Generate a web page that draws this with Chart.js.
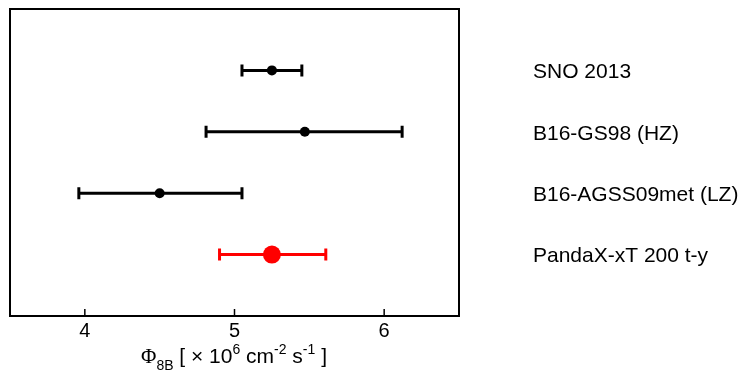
<!DOCTYPE html>
<html>
<head>
<meta charset="utf-8">
<script src="https://cdn.jsdelivr.net/npm/chart.js@4.4.1/dist/chart.umd.min.js"></script>
<style>
  html, body { margin: 0; padding: 0; background: #fff; }
  #wrap { width: 740px; height: 372px; position: relative; }
</style>
</head>
<body>
<div id="wrap"><canvas id="fluxChart"></canvas></div>
<script>
// measurements / predictions, top to bottom
const labels = ["SNO 2013", "B16-GS98 (HZ)", "B16-AGSS09met (LZ)", "PandaX-xT 200 t-y"];
const centers = [5.25, 5.47, 4.50, 5.25];
const lows = [5.05, 4.81, 3.96, 4.90];
const highs = [5.45, 6.12, 5.05, 5.61];
const rows = [4, 3, 2, 1];
const colors = ["#000000", "#000000", "#000000", "#ff0000"];
const radii = [5, 5, 5, 9];
const xTicks = [4, 5, 6];

const FONT = "Liberation Sans, Arial, sans-serif";
const SERIF = "Liberation Serif, Times New Roman, serif";

// error bars + frame + inward ticks + right-hand labels + axis title
const errorBarPlugin = {
  id: 'errorBarPlugin',
  beforeDatasetsDraw(chart) {
    const { ctx } = chart;
    const xs = chart.scales.x, ys = chart.scales.y;
    ctx.save();
    rows.forEach((r, i) => {
      const y = ys.getPixelForValue(r);
      const x0 = xs.getPixelForValue(lows[i]);
      const x1 = xs.getPixelForValue(highs[i]);
      ctx.strokeStyle = colors[i];
      ctx.lineWidth = 3;
      ctx.beginPath();
      ctx.moveTo(x0, y); ctx.lineTo(x1, y);
      ctx.moveTo(x0, y - 6); ctx.lineTo(x0, y + 6);
      ctx.moveTo(x1, y - 6); ctx.lineTo(x1, y + 6);
      ctx.stroke();
    });
    ctx.restore();
  },
  afterDraw(chart) {
    const { ctx, chartArea: a } = chart;
    const xs = chart.scales.x, ys = chart.scales.y;
    ctx.save();
    // frame
    ctx.strokeStyle = '#000';
    ctx.lineWidth = 2;
    ctx.strokeRect(a.left, a.top, a.right - a.left, a.bottom - a.top);
    // inward ticks
    ctx.lineWidth = 1.5;
    xTicks.forEach(v => {
      const x = xs.getPixelForValue(v);
      ctx.beginPath();
      ctx.moveTo(x, a.bottom); ctx.lineTo(x, a.bottom - 7);
      ctx.stroke();
    });
    // labels on the right
    ctx.fillStyle = '#000';
    ctx.font = `21px ${FONT}`;
    ctx.textAlign = 'left';
    ctx.textBaseline = 'middle';
    rows.forEach((r, i) => {
      ctx.fillText(labels[i], 533, ys.getPixelForValue(r) + 2);
    });
    // axis title: Φ_8B [ × 10^6 cm^-2 s^-1 ]
    const parts = [
      ["\u03A6", 0, 21, SERIF], ["8B", 7, 14, FONT], [" [ \u00D7 10", 0, 21, FONT], ["6", -9, 14, FONT],
      [" cm", 0, 21, FONT], ["-2", -9, 14, FONT], [" s", 0, 21, FONT], ["-1", -9, 14, FONT], [" ]", 0, 21, FONT]
    ];
    ctx.textBaseline = 'alphabetic';
    let total = 0;
    parts.forEach(p => { ctx.font = `${p[2]}px ${p[3]}`; total += ctx.measureText(p[0]).width; });
    let x = 234 - total / 2;
    const base = 363;
    parts.forEach(p => {
      ctx.font = `${p[2]}px ${p[3]}`;
      ctx.fillText(p[0], x, base + p[1]);
      x += ctx.measureText(p[0]).width;
    });
    ctx.restore();
  }
};

new Chart(document.getElementById('fluxChart'), {
  type: 'scatter',
  data: {
    datasets: [{
      data: rows.map((r, i) => ({ x: centers[i], y: r })),
      backgroundColor: colors,
      borderColor: colors,
      pointRadius: radii,
      pointHoverRadius: radii,
      borderWidth: 0
    }]
  },
  options: {
    responsive: true,
    maintainAspectRatio: false,
    animation: false,
    layout: { padding: { left: 10, right: 281, top: 9, bottom: 31 } },
    plugins: {
      legend: { display: false },
      tooltip: { enabled: false }
    },
    scales: {
      x: {
        type: 'linear',
        min: 3.5,
        max: 6.5,
        afterBuildTicks: scale => { scale.ticks = xTicks.map(v => ({ value: v })); },
        afterFit: scale => { scale.height = 25; },
        grid: { display: false, drawTicks: false },
        border: { display: false },
        ticks: {
          color: '#000',
          padding: 3,
          font: { family: FONT, size: 20 }
        }
      },
      y: {
        type: 'linear',
        min: 0,
        max: 5,
        display: false
      }
    }
  },
  plugins: [errorBarPlugin]
});
</script>
</body>
</html>
